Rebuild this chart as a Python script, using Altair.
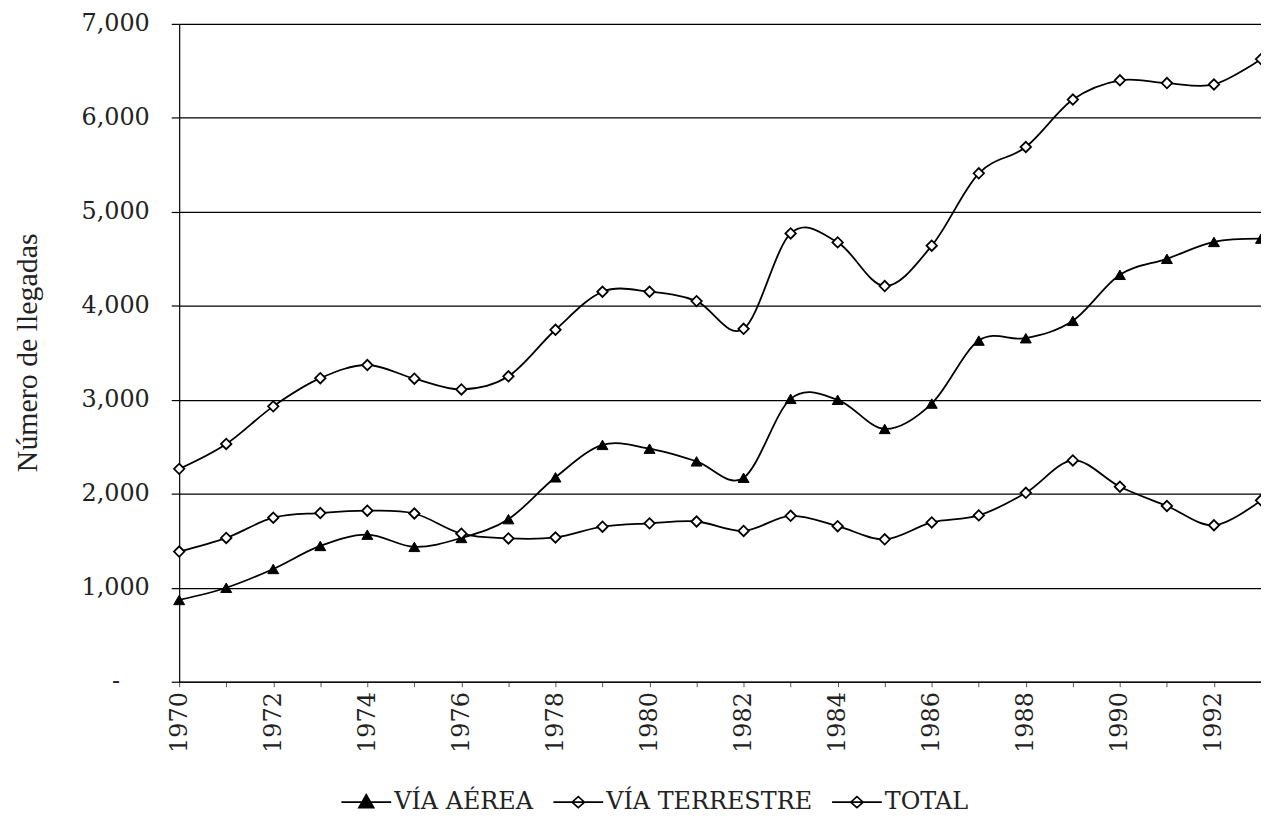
import altair as alt
import pandas as pd

years = list(range(1970, 1994))
aerea = [870, 1000, 1200, 1445, 1565, 1435, 1530, 1730, 2175, 2520, 2480, 2345,
         2170, 3010, 3000, 2690, 2960, 3630, 3655, 3840, 4330, 4500, 4680, 4715]
terrestre = [1385, 1530, 1745, 1795, 1820, 1790, 1575, 1525, 1535, 1650, 1685, 1705,
             1605, 1765, 1655, 1515, 1695, 1770, 2010, 2355, 2075, 1870, 1665, 1930]
total = [2265, 2530, 2930, 3230, 3370, 3225, 3110, 3250, 3745, 4150, 4150, 4050,
         3755, 4770, 4675, 4210, 4640, 5410, 5690, 6195, 6400, 6370, 6355, 6625]
series_names = ["VÍA AÉREA", "VÍA TERRESTRE", "TOTAL"]
y_ticks = [0, 1000, 2000, 3000, 4000, 5000, 6000, 7000]

rows = []
for name, vals in zip(series_names, [aerea, terrestre, total]):
    for yr, v in zip(years, vals):
        rows.append({"year": yr, "value": v, "serie": name})
df = pd.DataFrame(rows)

TICK_FONT = "DejaVu Serif"

x_enc = alt.X("year:Q",
              scale=alt.Scale(domain=[1970, 1993], nice=False, zero=False),
              axis=alt.Axis(values=years, title=None, grid=False,
                            labelExpr="datum.value % 2 == 0 ? datum.value : ''",
                            labelAngle=270, labelAlign="right", labelBaseline="middle",
                            labelFont=TICK_FONT, labelFontSize=24, labelColor="#222",
                            labelPadding=5, labelFlush=False, labelOverlap=False,
                            tickSize=5, tickColor="#555", domainColor="black",
                            domainWidth=1.2))
y_enc = alt.Y("value:Q",
              scale=alt.Scale(domain=[0, 7000], nice=False),
              axis=alt.Axis(values=y_ticks,
                            labelExpr="datum.value == 0 ? '-' : format(datum.value, ',')",
                            labelFont=TICK_FONT, labelFontSize=24, labelColor="#222",
                            labelPadding={"condition": {"test": "datum.value === 0", "value": 52},
                                          "value": 22},
                            labelFlush=False, labelOverlap=False,
                            tickSize=8, tickColor="black", tickWidth=1.2,
                            grid=True, gridColor="black", gridWidth=1.3,
                            domainColor="black", domainWidth=1.2,
                            title="Número de llegadas", titleFont="Liberation Serif",
                            titleFontSize=30, titleFontWeight="normal", titleColor="#222",
                            titleAngle=270, titleAlign="center", titleBaseline="middle",
                            titleX=-152, titleY=330))

base = alt.Chart(df)

lines = base.mark_line(interpolate="cardinal", color="black", strokeWidth=1.8).encode(
    x=x_enc, y=y_enc, detail="serie:N")

tri = base.transform_filter(alt.datum.serie == "VÍA AÉREA").mark_point(
    shape="triangle-up", filled=True, fill="black", stroke="black",
    strokeWidth=1, size=120, opacity=1).encode(x="year:Q", y="value:Q")

dia = base.transform_filter(alt.datum.serie != "VÍA AÉREA").mark_point(
    shape="diamond", filled=True, fill="white", stroke="black",
    strokeWidth=1.8, size=110, opacity=1).encode(x="year:Q", y="value:Q")

tri_path = "M-1,0H1M0,-0.3L0.3,0.22L-0.3,0.22Z"
dia_path = "M-1,0H1M0,-0.22L0.25,0L0,0.22L-0.25,0Z"

leg = dict(title=None, orient="none", direction="horizontal",
           legendX=162, legendY=756, padding=0,
           symbolSize=2500, symbolStrokeWidth=1.6, symbolOpacity=1,
           labelFont=TICK_FONT, labelFontSize=24,
           labelColor="#222", labelLimit=500,
           labelOffset=2, columnPadding=16)

legend_layer = base.transform_filter("datum.year < 0").mark_point(
    filled=True, strokeWidth=1.6, opacity=1).encode(
    x="year:Q", y="value:Q",
    shape=alt.Shape("serie:N",
                    scale=alt.Scale(domain=series_names,
                                    range=[tri_path, dia_path, dia_path]),
                    legend=alt.Legend(**leg)),
    fill=alt.Fill("serie:N",
                  scale=alt.Scale(domain=series_names, range=["black", "white", "white"]),
                  legend=alt.Legend(**leg)),
    stroke=alt.Stroke("serie:N",
                      scale=alt.Scale(domain=series_names, range=["black", "black", "black"]),
                      legend=alt.Legend(**leg)))

chart = alt.layer(lines, tri, dia, legend_layer).properties(
    width=1087, height=661,
    autosize=alt.AutoSizeParams(type="none"),
    padding={"left": 172, "top": 14, "right": 0, "bottom": 140},
    background="white",
).configure_view(stroke=None)

chart.save("out.html", embed_options={"renderer": "svg", "actions": False})
